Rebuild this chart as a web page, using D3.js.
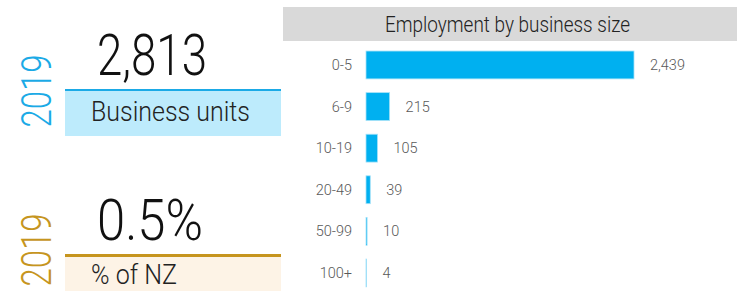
<!DOCTYPE html>
<html><head><meta charset="utf-8">
<script src="https://cdn.jsdelivr.net/npm/d3@7"></script>
<style>
html,body{margin:0;padding:0;background:#fff;}
svg{display:block;font-family:Roboto, "Open Sans", sans-serif;}
</style></head>
<body><svg id="c" width="737" height="291"></svg>
<script>
const categories = ["0-5","6-9","10-19","20-49","50-99","100+"];
const values = [2439,215,105,39,10,4];
const valueLabels = ["2,439","215","105","39","10","4"];
const chartTitle = "Employment by business size";
const kpiYears = ["2019","2019"];
const kpiValues = ["2,813","0.5%"];
const kpiLabels = ["Business units","% of NZ"];

const svg = d3.select("#c");

// KPI panels
const kpis = [
  {year:kpiYears[0], value:kpiValues[0], label:kpiLabels[0], accent:"#1BAAE6", fill:"#BDEBFC", lineY:89, boxY:91, boxH:45, yearCY:91, valBase:75, valW:110, labBase:121, labX:91, labW:159},
  {year:kpiYears[1], value:kpiValues[1], label:kpiLabels[1], accent:"#C6951E", fill:"#FDF3E6", lineY:254, boxY:257, boxH:34, yearCY:250, valBase:240, valW:106, labBase:284, labX:91, labW:86}
];
kpis.forEach(k=>{
  svg.append("rect").attr("x",65).attr("y",k.boxY).attr("width",216).attr("height",k.boxH).attr("fill",k.fill);
  svg.append("rect").attr("x",65).attr("y",k.lineY).attr("width",216).attr("height",k.boxY-k.lineY).attr("fill",k.accent);
  svg.append("text").attr("transform",`translate(51,${k.yearCY}) rotate(-90)`)
    .attr("text-anchor","middle").attr("font-size",43).attr("font-weight",300)
    .attr("fill",k.accent).attr("textLength",73).attr("lengthAdjust","spacingAndGlyphs").text(k.year);
  svg.append("text").attr("x",97).attr("y",k.valBase).attr("font-size",58).attr("font-weight",300)
    .attr("fill","#111").attr("textLength",k.valW).attr("lengthAdjust","spacingAndGlyphs").text(k.value);
  svg.append("text").attr("x",k.labX).attr("y",k.labBase).attr("font-size",28).attr("font-weight",300)
    .attr("fill","#222").attr("textLength",k.labW).attr("lengthAdjust","spacingAndGlyphs").text(k.label);
});

// Bar chart header
svg.append("rect").attr("x",283).attr("y",7).attr("width",454).attr("height",34).attr("fill","#D9D9D9");
svg.append("text").attr("x",385).attr("y",32).attr("font-size",22).attr("font-weight",300)
  .attr("fill","#222").attr("textLength",245).attr("lengthAdjust","spacingAndGlyphs").text(chartTitle);

const x = d3.scaleLinear().domain([0, d3.max(values)]).range([366, 634]);
const y = d3.scaleBand().domain(categories).range([37.3, 300.6]).padding(0.33);

const data = categories.map((c,i)=>({c, v:values[i], l:valueLabels[i]}));

svg.append("g").selectAll("rect").data(data).join("rect")
  .attr("x", x(0)).attr("y", d=>y(d.c))
  .attr("width", d=>x(d.v)-x(0)).attr("height", y.bandwidth())
  .attr("fill","#00B0F0").attr("stroke","#A6E2F8").attr("stroke-width",0.8);

svg.append("g").selectAll("text").data(data).join("text")
  .attr("x",352).attr("y",d=>y(d.c)+y.bandwidth()/2).attr("dy","0.35em")
  .attr("text-anchor","end").attr("font-size",14.5).attr("font-weight",300).attr("fill","#595959")
  .text(d=>d.c);

svg.append("g").selectAll("text").data(data).join("text")
  .attr("x",d=>x(d.v)+16).attr("y",d=>y(d.c)+y.bandwidth()/2).attr("dy","0.35em")
  .attr("font-size",14.5).attr("font-weight",300).attr("fill","#595959")
  .text(d=>d.l);
</script></body></html>
